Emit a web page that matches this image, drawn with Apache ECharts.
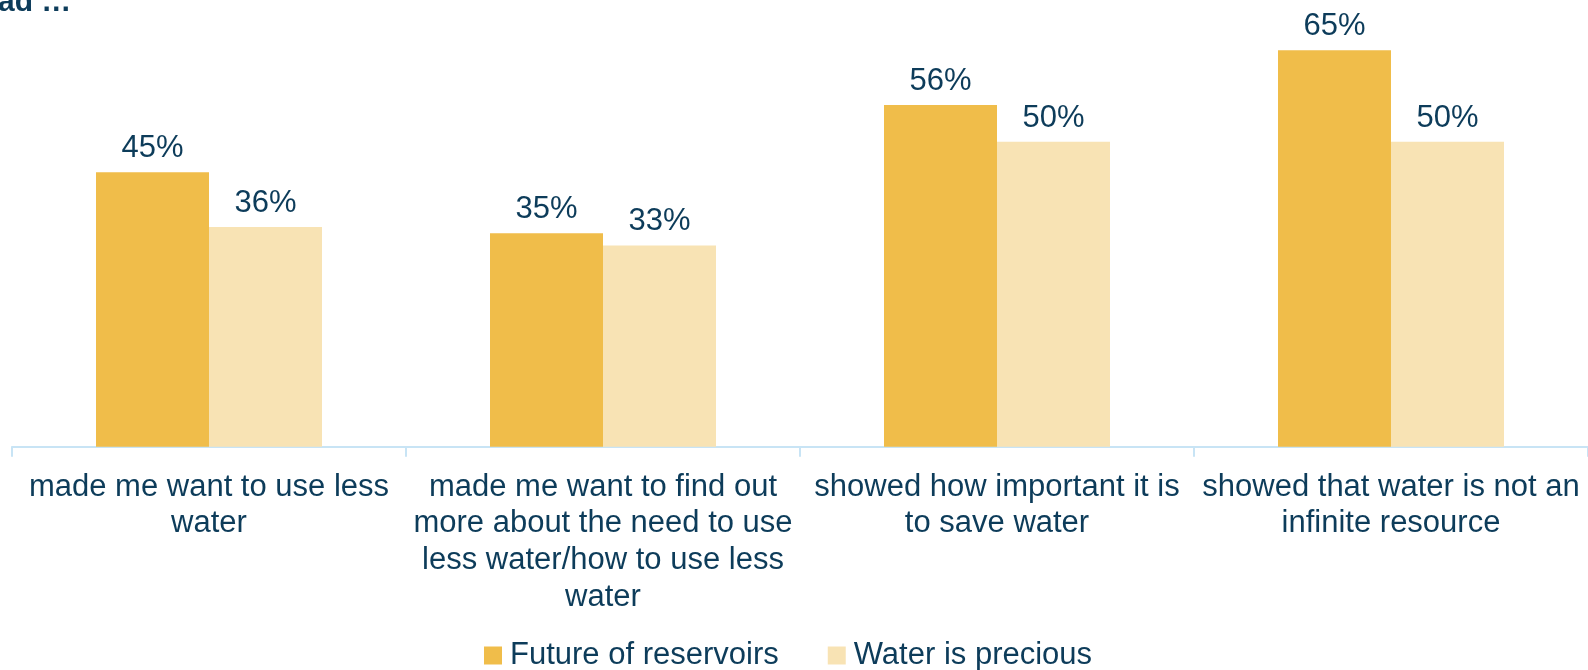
<!DOCTYPE html>
<html>
<head>
<meta charset="utf-8">
<script src="https://cdn.jsdelivr.net/npm/echarts@6/dist/echarts.min.js"></script>
<style>html,body{margin:0;padding:0;background:#fff;}#c{width:1588px;height:670px;}</style>
</head>
<body>
<div id="c"></div>
<script>
const categories = [
  "made me want to use less\nwater",
  "made me want to find out\nmore about the need to use\nless water/how to use less\nwater",
  "showed how important it is\nto save water",
  "showed that water is not an\ninfinite resource"
];
const seriesNames = ["Future of reservoirs", "Water is precious"];
const futureOfReservoirs = [45, 35, 56, 65];
const waterIsPrecious = [36, 33, 50, 50];

const textColor = '#0d3c5a';
const font = 'Liberation Sans, Arial, sans-serif';
const chart = echarts.init(document.getElementById('c'), null, {renderer: 'canvas'});
const labelCfg = {
  show: true, position: 'top', distance: 8,
  formatter: p => p.value + '%',
  color: textColor, fontSize: 31, fontFamily: font
};
chart.setOption({
  animation: false,
  backgroundColor: '#ffffff',
  graphic: [{
    type: 'text', left: -2, top: -12.5,
    style: {text: 'ad …', font: 'bold 30px ' + font, fill: textColor}
  }],
  legend: {
    left: 479, top: 635,
    itemWidth: 18, itemHeight: 18, itemGap: 49,
    icon: 'rect',
    textStyle: {color: textColor, fontSize: 31, fontFamily: font, padding: [0, 0, 0, 3]},
    data: seriesNames
  },
  grid: {left: 12, right: 0, top: 19.7, bottom: 223.3, containLabel: false},
  xAxis: {
    type: 'category', data: categories,
    axisLine: {show: true, lineStyle: {color: '#c8e4f5', width: 2}},
    axisTick: {show: true, length: 10, lineStyle: {color: '#c8e4f5', width: 2}},
    axisLabel: {interval: 0, margin: 22, color: textColor, fontSize: 31, lineHeight: 36.7, fontFamily: font, align: 'center'}
  },
  yAxis: {type: 'value', min: 0, max: 70, show: false, splitLine: {show: false}},
  series: [
    {name: seriesNames[0], type: 'bar', data: futureOfReservoirs, barWidth: 113, barGap: '0%',
     itemStyle: {color: '#f0bd4a'}, label: labelCfg},
    {name: seriesNames[1], type: 'bar', data: waterIsPrecious, barWidth: 113, barGap: '0%',
     itemStyle: {color: '#f8e3b4'}, label: labelCfg}
  ]
});
</script>
</body>
</html>
